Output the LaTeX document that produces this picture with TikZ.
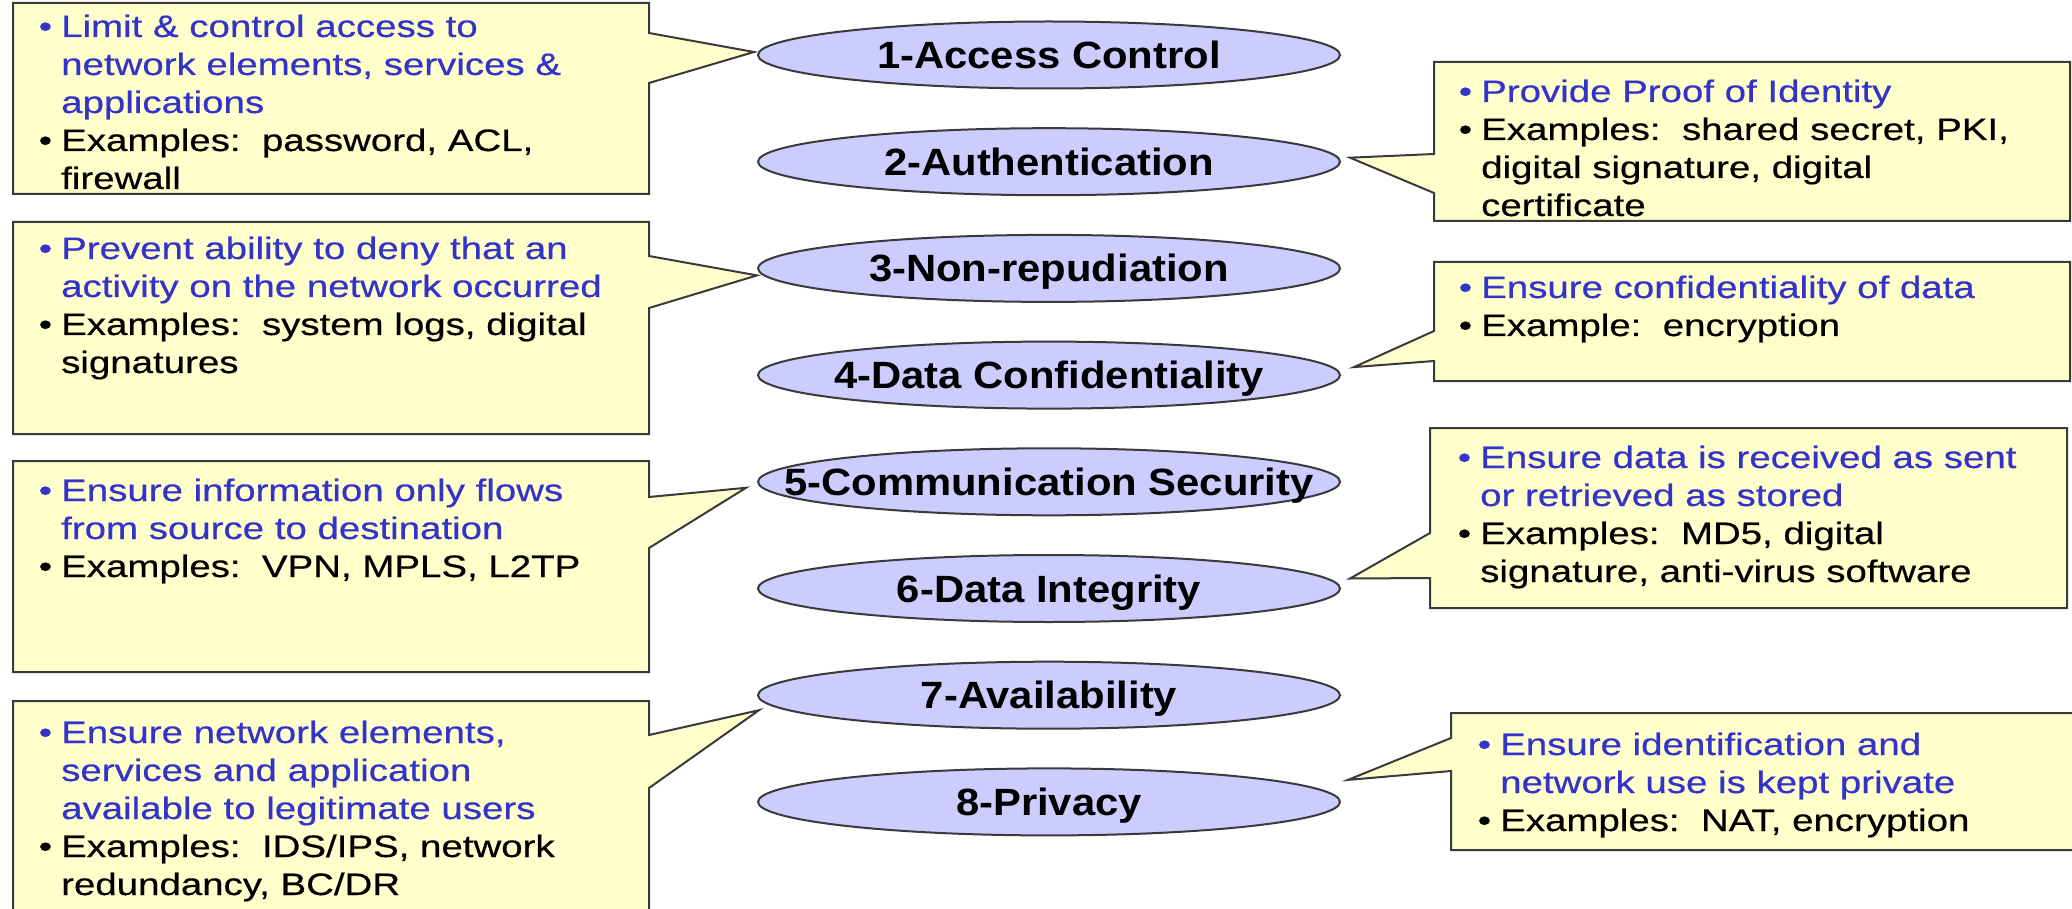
\documentclass[tikz,border=0pt]{standalone}
\usepackage{fontspec}
\usetikzlibrary{shapes.geometric,calc}

\newfontfamily\boxfont[FakeStretch=1.24,FakeBold=0.5]{Liberation Sans}
\newfontfamily\ellfont[FakeStretch=1.1]{Liberation Sans}

\definecolor{ellfill}{HTML}{CCCCFF}
\definecolor{boxfill}{HTML}{FFFFCC}
\definecolor{secblue}{HTML}{3333CC}
\definecolor{edgegray}{HTML}{3A3A3A}

% bullet hung to the left of the text column
\newcommand\bul{\llap{\textbullet\hspace{9pt}}}
% label of fixed-size ellipse: zero width so the ellipse never grows
\newcommand\elltext[1]{\makebox[0pt]{#1}}

% callout with its pointer on the right side
% #1 x0, #2 y0, #3 x1, #4 y1, #5 pointer top, #6 pointer bottom, #7 tip
\newcommand\leftcallout[7]{%
  \draw[callout] (#1,#2) -- (#3,#2) -- (#3,#5) -- #7 -- (#3,#6) -- (#3,#4) -- (#1,#4) -- cycle;}
% callout with its pointer on the left side
\newcommand\rightcallout[7]{%
  \draw[callout] (#1,#2) -- (#3,#2) -- (#3,#4) -- (#1,#4) -- (#1,#6) -- #7 -- (#1,#5) -- cycle;}

\begin{document}
\begin{tikzpicture}[x=1pt,y=-1pt,
  secell/.style={ellipse, draw=edgegray, line width=2, fill=ellfill,
    minimum width=582, minimum height=67, inner sep=0,
    font=\ellfont\bfseries\fontsize{38}{42}\selectfont,
    text height=27, text depth=0},
  callout/.style={draw=edgegray, line width=2, fill=boxfill, line join=miter},
  txt/.style={anchor=base west, inner sep=0, text=black,
    font=\boxfont\fontsize{31}{38}\selectfont}]

\clip (0,0) rectangle (2072,909);
\fill[white] (0,0) rectangle (2072,909);

% the eight security dimensions
\node[secell] (e1) at (1049,55)    {\elltext{1-Access Control}};
\node[secell] (e2) at (1049,161.7) {\elltext{2-Authentication}};
\node[secell] (e3) at (1049,268.4) {\elltext{3-Non-repudiation}};
\node[secell] (e4) at (1049,375.1) {\elltext{4-Data Confidentiality}};
\node[secell] (e5) at (1049,481.8) {\elltext{5-Communication Security}};
\node[secell] (e6) at (1049,588.5) {\elltext{6-Data Integrity}};
\node[secell] (e7) at (1049,695.2) {\elltext{7-Availability}};
\node[secell] (e8) at (1049,801.9) {\elltext{8-Privacy}};

% callout shapes
\leftcallout{13}{3}{649}{194}{33}{83}{($(e1.west)+(-3,-3)$)}
\leftcallout{13}{222}{649}{434}{256}{308}{($(e3.west)+(0,7)$)}
\leftcallout{13}{461}{649}{672}{497}{548}{($(e5.west)+(-11,6)$)}
\leftcallout{13}{701}{649}{930}{735}{788}{($(e7.west)+(2,15)$)}
\rightcallout{1434}{62}{2070}{221}{154}{193}{($(e2.east)+(9,-4)$)}
\rightcallout{1434}{262}{2070}{381}{331}{361}{($(e4.east)+(13,-8)$)}
\rightcallout{1430}{428}{2067}{608}{533}{578}{($(e6.east)+(9,-10)$)}
\rightcallout{1451}{713}{2085}{850}{738}{771}{($(e8.east)+(7,-22)$)}

% callout texts
\node[txt] (t1) at (61,37) {\begin{tabular}[t]{@{}l@{}}
\color{secblue}\bul Limit \& control access to\\
\color{secblue}network elements, services \&\\
\color{secblue}applications\\
\bul Examples:\ \ password, ACL,\\
firewall
\end{tabular}};

\node[txt] (t2) at (1481,102) {\begin{tabular}[t]{@{}l@{}}
\color{secblue}\bul Provide Proof of Identity\\
\bul Examples:\ \ shared secret, PKI,\\
digital signature, digital\\
certificate
\end{tabular}};

\node[txt] (t3) at (61,259) {\begin{tabular}[t]{@{}l@{}}
\color{secblue}\bul Prevent ability to deny that an\\
\color{secblue}activity on the network occurred\\
\bul Examples:\ \ system logs, digital\\
signatures
\end{tabular}};

\node[txt] (t4) at (1481,298) {\begin{tabular}[t]{@{}l@{}}
\color{secblue}\bul Ensure confidentiality of data\\
\bul Example:\ \ encryption
\end{tabular}};

\node[txt] (t5) at (61,501) {\begin{tabular}[t]{@{}l@{}}
\color{secblue}\bul Ensure information only flows\\
\color{secblue}from source to destination\\
\bul Examples:\ \ VPN, MPLS, L2TP
\end{tabular}};

\node[txt] (t6) at (1480,468) {\begin{tabular}[t]{@{}l@{}}
\color{secblue}\bul Ensure data is received as sent\\
\color{secblue}or retrieved as stored\\
\bul Examples:\ \ MD5, digital\\
signature, anti-virus software
\end{tabular}};

\node[txt] (t7) at (61,743) {\begin{tabular}[t]{@{}l@{}}
\color{secblue}\bul Ensure network elements,\\
\color{secblue}services and application\\
\color{secblue}available to legitimate users\\
\bul Examples:\ \ IDS/IPS, network\\
redundancy, BC/DR
\end{tabular}};

\node[txt] (t8) at (1500,755) {\begin{tabular}[t]{@{}l@{}}
\color{secblue}\bul Ensure identification and\\
\color{secblue}network use is kept private\\
\bul Examples:\ \ NAT, encryption
\end{tabular}};

\end{tikzpicture}
\end{document}
